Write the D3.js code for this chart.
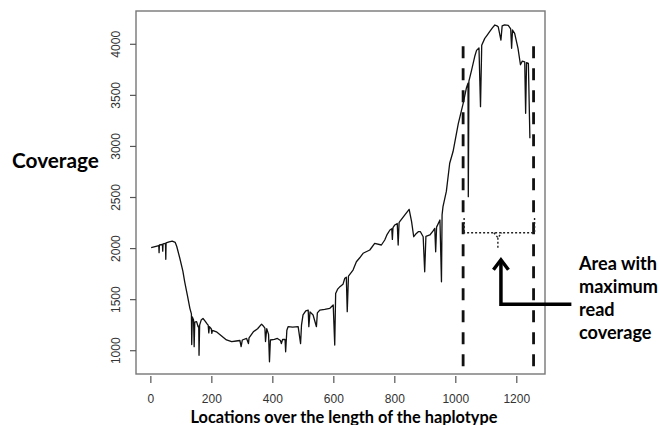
<!DOCTYPE html>
<html><head><meta charset="utf-8">
<script src="https://cdn.jsdelivr.net/npm/d3@7"></script>
<style>body{margin:0;background:#fff}svg{display:block}</style>
</head><body>
<svg id="c" width="660" height="425"></svg>
<script>
// ---- data ----
const positions = [1,20,26,27,28,38,39,40,48,49,50,60,70,80,85,95,105,111,120,128,133,134,136,140,142,144,150,155,157,158,160,165,171,178,185,188,190,192,198,200,202,215,230,248,265,280,292,296,300,314,320,322,336,350,363,368,374,376,380,386,389,392,405,415,425,428,432,440,442,446,450,465,483,491,494,499,508,516,518,522,532,543,546,554,570,587,598,603,606,612,620,630,636,641,644,648,663,674,685,696,718,734,756,767,775,784,790,792,794,800,808,811,814,816,833,847,855,862,868,877,884,893,898,902,915,925,931,934,937,948,953,955,958,969,980,991,1008,1024,1035,1040,1041,1043,1052,1062,1068,1076,1081,1085,1095,1103,1111,1120,1128,1135,1139,1148,1152,1160,1172,1180,1183,1186,1193,1204,1212,1218,1226,1229,1232,1238,1243];
const coverage  = [2010,2025,2030,1960,2035,2040,1975,2045,2050,1895,2055,2065,2072,2060,2020,1905,1780,1675,1540,1415,1360,1060,1330,1300,1040,1280,1285,1235,1240,955,1250,1300,1315,1290,1260,1250,1175,1235,1215,1170,1200,1185,1150,1105,1088,1095,1100,1040,1105,1120,1070,1125,1185,1215,1260,1245,1220,1090,1215,1160,892,1105,1110,1120,1100,1070,1110,1110,990,1200,1235,1230,1235,1070,1250,1350,1390,1398,1235,1380,1350,1235,1370,1398,1405,1415,1447,1056,1560,1600,1627,1650,1709,1720,1382,1730,1790,1871,1910,1954,1986,2051,2035,2084,2140,2182,2195,2090,2205,2231,2245,2035,2255,2263,2329,2384,2263,2116,2140,2165,2165,2116,1773,2120,2133,2170,2198,1969,2210,2280,1675,2330,2410,2560,2835,2950,3220,3420,3575,3620,2508,3640,3750,3880,3940,3965,3389,3990,4058,4090,4123,4160,4189,4180,4172,4042,4180,4190,4185,4150,3961,4140,4107,3961,3800,3835,3829,3324,3820,3813,3080];
const xTicks = [0,200,400,600,800,1000,1200];
const yTicks = [1000,1500,2000,2500,3000,3500,4000];
const regionBounds = [1024,1255];   // dashed vertical lines
const bracketLevel = 2155, bracketTop = 2300, bracketMid = 1138;
const yLabel = "Coverage";
const xLabel = "Locations over the length of the haplotype";
const noteLines = ["Area with","maximum","read","coverage"];

// ---- layout ----
const svg = d3.select("#c");
const L=136, R=545, T=11, B=374;
const x = d3.scaleLinear().domain([-48.7,1292.5]).range([L,R]);
const y = d3.scaleLinear().domain([772,4326]).range([B,T]);
const axisCol="#555";

// frame
svg.append("rect").attr("x",L).attr("y",T).attr("width",R-L).attr("height",B-T)
  .attr("fill","none").attr("stroke","#777").attr("stroke-width",1.4);

// x axis ticks & labels
const gx = svg.append("g");
gx.selectAll("line").data(xTicks).join("line")
  .attr("x1",d=>x(d)).attr("x2",d=>x(d)).attr("y1",B+2).attr("y2",B+9)
  .attr("stroke",axisCol).attr("stroke-width",1.2);
gx.selectAll("text").data(xTicks).join("text")
  .attr("x",d=>x(d)).attr("y",403).attr("text-anchor","middle")
  .attr("font-family","Liberation Sans, Arial, sans-serif").attr("font-size",12).attr("fill","#333")
  .text(d=>d);

// y axis ticks & labels
const gy = svg.append("g");
gy.selectAll("line").data(yTicks).join("line")
  .attr("x1",L-6).attr("x2",L).attr("y1",d=>y(d)).attr("y2",d=>y(d))
  .attr("stroke",axisCol).attr("stroke-width",1.2);
gy.selectAll("text").data(yTicks).join("text")
  .attr("transform",d=>`translate(120,${y(d)}) rotate(-90)`).attr("text-anchor","middle")
  .attr("font-family","Liberation Sans, Arial, sans-serif").attr("font-size",12).attr("fill","#333")
  .text(d=>d);

// data line
const pts = positions.map((p,i)=>[p,coverage[i]]);
svg.append("path").datum(pts)
  .attr("d",d3.line().x(d=>x(d[0])).y(d=>y(d[1])))
  .attr("fill","none").attr("stroke","#111").attr("stroke-width",1.3).attr("stroke-linejoin","round");

// dashed region lines
svg.selectAll(".reg").data(regionBounds).join("line")
  .attr("x1",d=>x(d)).attr("x2",d=>x(d)).attr("y1",y(3980)).attr("y2",y(790))
  .attr("stroke","#111").attr("stroke-width",2.8).attr("stroke-dasharray","12,10");

// dotted bracket
const dot = {stroke:"#222","stroke-width":1.4,"stroke-dasharray":"2,2",fill:"none"};
function ap(sel,o){for(const k in o) sel.attr(k,o[k]); return sel;}
ap(svg.append("line").attr("x1",x(regionBounds[0])).attr("x2",x(regionBounds[1]))
  .attr("y1",y(bracketLevel)).attr("y2",y(bracketLevel)),dot);
regionBounds.forEach(b=>ap(svg.append("line").attr("x1",x(b)+1).attr("x2",x(b)+1)
  .attr("y1",y(bracketTop)).attr("y2",y(bracketLevel)),dot));
ap(svg.append("path").attr("d",
  `M${x(bracketMid)-4},${y(bracketLevel)} L${x(bracketMid)},${y(bracketLevel)+5} L${x(bracketMid)+4},${y(bracketLevel)} M${x(bracketMid)},${y(bracketLevel)+5} L${x(bracketMid)},${y(1995)}`),dot);

// arrow
const ax = x(1148), tipY = y(1890), cornerY = y(1455), endX = x(1379);
svg.append("path").attr("d",`M${endX},${cornerY} L${ax},${cornerY} L${ax},${tipY+1}`)
  .attr("fill","none").attr("stroke","#000").attr("stroke-width",3.5).attr("stroke-linejoin","miter");
svg.append("path").attr("d",`M${ax-7.5},${tipY+10} L${ax},${tipY} L${ax+7.5},${tipY+10}`)
  .attr("fill","none").attr("stroke","#000").attr("stroke-width",3.5).attr("stroke-linejoin","miter");

// bold labels, fitted to measured widths
const bold = "Lato, 'Open Sans', sans-serif";
function fit(t,target){const w=t.node().getComputedTextLength(); const fs=+t.attr("font-size"); t.attr("font-size",fs*target/w);}
const yl = svg.append("text").attr("x",12).attr("y",168).attr("font-family",bold).attr("font-weight",700)
  .attr("font-size",18).attr("fill","#000").text(yLabel);
fit(yl,87);
const xl = svg.append("text").attr("x",344).attr("y",423).attr("text-anchor","middle").attr("font-family",bold)
  .attr("font-weight",700).attr("font-size",14).attr("fill","#000").text(xLabel);
fit(xl,307);
const nt = svg.append("g");
const noteY=[270,293,316,339];
const probe = nt.append("text").attr("font-family",bold).attr("font-weight",700).attr("font-size",14).text(noteLines[1]);
const nfs = 14*79/probe.node().getComputedTextLength(); probe.remove();
nt.selectAll("text").data(noteLines).join("text")
  .attr("x",579).attr("y",(d,i)=>noteY[i]).attr("font-family",bold).attr("font-weight",700)
  .attr("font-size",nfs).attr("fill","#000").text(d=>d);
</script>
</body></html>
